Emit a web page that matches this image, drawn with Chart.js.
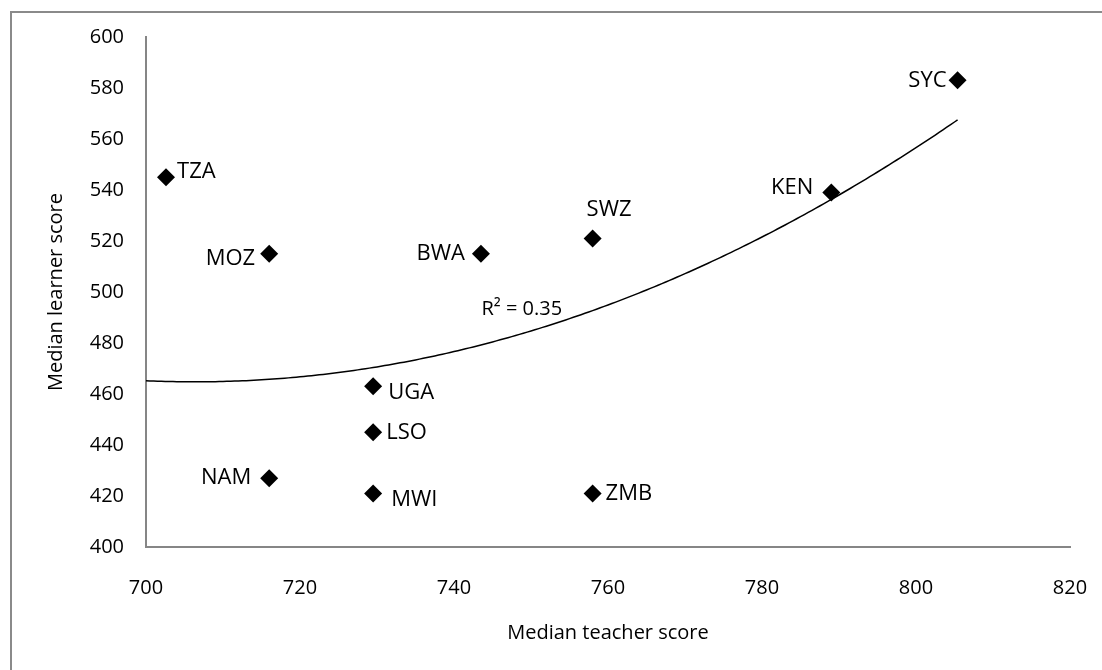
<!DOCTYPE html>
<html>
<head>
<meta charset="utf-8">
<script src="https://cdn.jsdelivr.net/npm/chart.js@4.4.1/dist/chart.umd.min.js"></script>
<style>
  html, body { margin: 0; padding: 0; background: #ffffff; }
  #wrap { width: 1102px; height: 670px; position: relative; }
</style>
</head>
<body>
<div id="wrap"><canvas id="chart" width="1102" height="670"></canvas></div>
<script>
// Country codes with median teacher and learner scores
const countries     = ['TZA', 'MOZ', 'NAM', 'UGA', 'LSO', 'MWI', 'BWA', 'SWZ', 'ZMB', 'KEN', 'SYC'];
const teacherScores = [702.6, 716.0, 716.0, 729.5, 729.5, 729.5, 743.5, 758.0, 758.0, 789.0, 805.4];
const learnerScores = [545,   515,   427,   463,   445,   421,   515,   521,   421,   539,   583];

const xTicks = [700, 720, 740, 760, 780, 800, 820];
const yTicks = [400, 420, 440, 460, 480, 500, 520, 540, 560, 580, 600];

// Polynomial (order 2) trendline: y = c0 + c1*(x - 700) + c2*(x - 700)^2
const trendOrigin = 700;
const trendCoefficients = [465.2, -0.133, 0.01047];
const trendRange = [700, 805.4];
const rSquaredText = 'R² = 0.35';

const FONT = "'Open Sans', 'Noto Sans', sans-serif";

function trendAt(x) {
  const u = x - trendOrigin;
  return trendCoefficients[0] + trendCoefficients[1] * u + trendCoefficients[2] * u * u;
}

const trendPoints = [];
for (let x = trendRange[0]; x < trendRange[1]; x += 0.5) trendPoints.push({ x: x, y: trendAt(x) });
trendPoints.push({ x: trendRange[1], y: trendAt(trendRange[1]) });

const scatterPoints = countries.map((c, i) => ({ x: teacherScores[i], y: learnerScores[i] }));

// Where each country code sits relative to its marker
const labelPlacement = {
  TZA: { dx: 11,  dy: -6, align: 'left' },
  MOZ: { dx: -14, dy: 5,  align: 'right' },
  NAM: { dx: -18, dy: 0,  align: 'right' },
  UGA: { dx: 15,  dy: 6,  align: 'left' },
  LSO: { dx: 13,  dy: 0,  align: 'left' },
  MWI: { dx: 18,  dy: 6,  align: 'left' },
  BWA: { dx: -16, dy: 0,  align: 'right' },
  SWZ: { dx: -6,  dy: -29, align: 'left' },
  ZMB: { dx: 13,  dy: 0,  align: 'left' },
  KEN: { dx: -18, dy: -5, align: 'right' },
  SYC: { dx: -11, dy: 0,  align: 'right' }
};

const annotations = {
  id: 'annotations',
  beforeDraw(chart) {
    const ctx = chart.ctx;
    ctx.save();
    ctx.fillStyle = '#ffffff';
    ctx.fillRect(0, 0, chart.width, chart.height);
    // frame around the chart (runs past the right and bottom edges)
    ctx.strokeStyle = '#8a8a8a';
    ctx.lineWidth = 2;
    ctx.beginPath();
    ctx.moveTo(11, 1200);
    ctx.lineTo(11, 12);
    ctx.lineTo(1200, 12);
    ctx.stroke();
    ctx.restore();
  },
  afterDatasetsDraw(chart) {
    const ctx = chart.ctx;
    const xs = chart.scales.x, ys = chart.scales.y;
    ctx.save();
    ctx.fillStyle = '#000000';
    ctx.textBaseline = 'middle';
    ctx.font = "22px " + FONT;
    countries.forEach((c, i) => {
      const p = labelPlacement[c];
      ctx.textAlign = p.align;
      ctx.fillText(c, xs.getPixelForValue(teacherScores[i]) + p.dx, ys.getPixelForValue(learnerScores[i]) + p.dy);
    });
    ctx.font = "20px " + FONT;
    ctx.textAlign = 'center';
    ctx.fillText(rSquaredText, xs.getPixelForValue(748.8), ys.getPixelForValue(493.3));
    ctx.restore();
  }
};

new Chart(document.getElementById('chart'), {
  type: 'scatter',
  data: {
    datasets: [
      {
        label: 'Countries',
        data: scatterPoints,
        pointStyle: 'rectRot',
        pointRadius: 9,
        pointHoverRadius: 9,
        backgroundColor: '#000000',
        borderColor: '#000000',
        borderWidth: 0,
        order: 1
      },
      {
        label: 'Poly. trend',
        data: trendPoints,
        showLine: true,
        pointRadius: 0,
        borderColor: '#000000',
        borderWidth: 1.5,
        fill: false,
        order: 2
      }
    ]
  },
  options: {
    responsive: false,
    animation: false,
    events: [],
    layout: { padding: { left: 0, right: 32, top: 37, bottom: 0 } },
    plugins: {
      legend: { display: false },
      tooltip: { enabled: false }
    },
    scales: {
      x: {
        type: 'linear',
        min: 700, max: 820,
        afterBuildTicks: s => { s.ticks = xTicks.map(v => ({ value: v })); },
        afterFit: s => { s.height = 123; s.paddingLeft = 0; s.paddingRight = 0; },
        grid: { display: false, drawOnChartArea: false, drawTicks: true, tickLength: 6, tickColor: '#868686', tickWidth: 1.5 },
        border: { display: true, color: '#868686', width: 2 },
        ticks: { color: '#000000', font: { family: FONT, size: 20 }, padding: 23, maxRotation: 0 },
        title: { display: true, text: 'Median teacher score', color: '#000000', font: { family: FONT, size: 20 }, padding: { top: 0, bottom: 25 } }
      },
      y: {
        type: 'linear',
        min: 400, max: 600,
        afterBuildTicks: s => { s.ticks = yTicks.map(v => ({ value: v })); },
        afterFit: s => { s.width = 146; s.paddingTop = 0; s.paddingBottom = 0; },
        grid: { display: false, drawOnChartArea: false, drawTicks: true, tickLength: 6, tickColor: '#868686', tickWidth: 1.5 },
        border: { display: true, color: '#868686', width: 2 },
        ticks: { color: '#000000', font: { family: FONT, size: 20 }, padding: 16 },
        title: { display: true, text: 'Median learner score', color: '#000000', font: { family: FONT, size: 20 }, padding: { top: 44, bottom: 0 } }
      }
    }
  },
  plugins: [annotations]
});
</script>
</body>
</html>
